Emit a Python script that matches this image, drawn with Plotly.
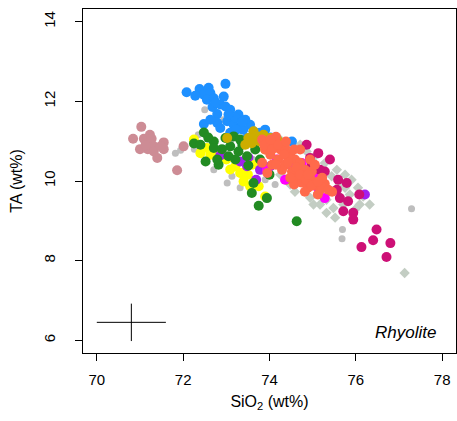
import plotly.graph_objects as go

# ---- data (SiO2, TA) per group ----
gray_x = [71.82, 71.94, 72.26, 72.71, 73.02, 73.13, 72.50, 72.94, 74.48, 74.63, 75.69, 75.68, 77.29, 74.13, 73.90, 73.32, 73.62, 72.35, 73.09]
gray_y = [10.70, 10.77, 10.80, 10.28, 9.95, 10.12, 11.79, 11.54, 9.99, 9.95, 8.78, 8.55, 9.30, 9.91, 10.03, 9.83, 10.54, 11.16, 10.96]

diam_x = [73.97, 74.25, 74.48, 74.71, 74.86, 75.05, 75.28, 75.56, 75.90, 75.44, 75.25, 75.40, 75.63, 75.32, 75.48, 75.32, 75.71, 76.17, 76.32, 75.13, 75.02, 75.75, 76.05, 74.94, 75.17, 75.52, 75.86, 75.75, 74.71, 74.48, 74.25, 74.59, 76.09, 75.63, 75.98, 77.13]
diam_y = [10.79, 11.04, 10.84, 10.91, 10.74, 10.62, 10.45, 10.28, 10.03, 10.12, 9.95, 9.74, 9.61, 9.53, 9.32, 9.20, 9.41, 9.61, 9.41, 9.70, 9.41, 9.83, 9.83, 9.58, 9.41, 9.08, 9.66, 10.16, 10.28, 9.91, 10.16, 9.73, 9.41, 9.91, 9.28, 7.69]

pink_x = [71.03, 70.84, 71.23, 71.09, 71.27, 71.18, 71.32, 71.55, 71.55, 71.40, 72.01, 71.86, 71.32, 71.48, 71.00, 71.13]
pink_y = [11.36, 11.06, 11.16, 11.06, 11.06, 10.80, 10.87, 10.97, 10.80, 10.58, 10.87, 10.27, 10.74, 10.87, 10.80, 10.90]

blue_x = [72.08, 72.38, 72.59, 72.98, 72.48, 72.63, 72.55, 72.71, 72.94, 72.86, 72.98, 73.09, 72.79, 73.28, 72.48, 72.79, 73.02, 72.86, 73.17, 73.32, 73.55, 73.63, 73.09, 73.48, 73.71, 74.52, 73.39, 73.78, 72.68, 73.21, 73.44, 73.90, 74.02, 72.28, 72.75, 73.05, 72.63, 73.37, 73.23]
blue_y = [12.23, 12.31, 12.34, 12.44, 12.17, 12.21, 12.04, 12.08, 12.12, 11.92, 11.87, 11.79, 11.68, 11.67, 11.43, 11.46, 11.50, 11.33, 11.41, 11.33, 11.41, 11.25, 11.21, 11.08, 11.16, 10.99, 11.29, 11.21, 11.86, 11.59, 11.54, 11.29, 11.09, 12.14, 11.97, 11.67, 11.54, 11.49, 11.29]

yellow_x = [72.25, 72.55, 72.40, 72.63, 72.79, 73.21, 73.36, 73.40, 73.55, 72.71, 73.32, 73.75, 73.90, 73.78, 73.00, 73.09, 73.50, 73.60]
yellow_y = [11.04, 10.83, 10.70, 10.66, 10.70, 10.37, 10.20, 9.99, 9.87, 10.70, 10.20, 9.87, 9.61, 10.37, 10.54, 10.29, 10.16, 10.41]

purple_x = [72.86, 73.51, 73.48, 73.78, 74.02, 76.21, 73.69, 73.32]
purple_y = [10.64, 10.59, 10.37, 10.28, 10.37, 9.66, 10.03, 10.49]

green_x = [72.48, 72.25, 72.40, 72.71, 72.71, 72.98, 73.17, 73.09, 73.05, 73.28, 73.21, 73.48, 73.51, 72.82, 72.79, 72.52, 73.63, 73.59, 73.75, 74.00, 73.94, 74.63, 72.90, 73.37, 73.78, 73.67, 72.58, 73.32]
green_y = [11.22, 10.94, 10.91, 10.99, 10.83, 11.08, 11.12, 10.87, 10.62, 10.74, 10.54, 10.62, 10.39, 10.41, 10.54, 10.49, 9.95, 9.70, 9.38, 10.16, 9.57, 8.99, 10.80, 10.91, 10.54, 10.79, 11.09, 11.04]

gold_x = [73.63, 73.51, 73.86, 74.02, 73.44, 73.71, 73.59, 73.02, 74.40, 73.78, 74.18, 74.32, 73.90]
gold_y = [11.25, 11.08, 11.16, 11.08, 10.91, 11.12, 10.95, 11.08, 10.03, 10.99, 11.04, 10.91, 10.79]

magenta_x = [74.17, 74.63, 75.28, 75.02, 74.82, 74.75, 73.94, 74.36, 75.12, 74.48]
magenta_y = [10.54, 10.08, 9.57, 10.16, 10.24, 10.45, 10.28, 10.03, 9.83, 10.41]

vred_x = [74.86, 75.13, 74.98, 75.28, 75.59, 75.79, 75.63, 75.82, 76.08, 75.71, 75.94, 75.94, 76.48, 76.40, 76.80, 76.13, 76.71, 74.94, 75.40, 75.17, 75.56]
vred_y = [10.91, 10.70, 10.41, 10.24, 10.03, 9.95, 9.57, 9.49, 9.66, 9.24, 9.20, 9.03, 8.78, 8.51, 8.44, 8.34, 8.09, 10.58, 10.54, 10.28, 9.78]

coral_x = [73.83, 73.97, 74.13, 74.25, 74.02, 74.36, 74.48, 74.20, 74.59, 74.36, 74.71, 74.52, 74.82, 74.66, 74.94, 75.05, 74.89, 75.17, 75.28, 75.45, 74.82, 75.12, 74.43, 74.29, 74.06, 73.90, 74.15, 74.71, 74.94, 74.98, 75.22, 74.57, 74.48, 74.75, 75.05, 73.83, 73.95,
           73.88, 74.06, 74.20, 74.34, 74.15, 74.43, 74.62, 74.71, 74.85, 74.98, 75.22, 75.36, 75.12, 74.89, 74.57, 74.38, 74.02]
coral_y = [11.04, 10.91, 10.99, 10.79, 10.66, 10.84, 10.66, 10.54, 10.54, 10.41, 10.46, 10.24, 10.28, 10.08, 10.08, 9.91, 9.83, 9.78, 9.93, 9.73, 9.73, 9.66, 10.59, 10.28, 10.41, 10.79, 11.11, 10.79, 10.54, 10.24, 10.08, 9.91, 10.08, 9.96, 10.41, 10.46, 10.20,
           10.89, 10.79, 10.91, 10.66, 10.41, 10.46, 10.34, 10.16, 10.03, 9.88, 9.83, 9.78, 9.98, 10.16, 10.79, 10.99, 11.04]

# typical analytical uncertainty cross
err_x = [70.8]
err_y = [6.45]
err_dx = [0.8]
err_dy = [0.47]

x_ticks = [70, 72, 74, 76, 78]
y_ticks = [6, 8, 10, 12, 14]

fig = go.Figure()

def add(xs, ys, color, size=10, symbol="circle"):
    fig.add_trace(go.Scatter(x=xs, y=ys, mode="markers",
                             marker=dict(color=color, size=size, symbol=symbol, line=dict(width=0)),
                             showlegend=False, hoverinfo="skip"))

add(gray_x, gray_y, "#BEBEBE", 7)
add(diam_x, diam_y, "#C3CDC3", 8, "diamond")
add(pink_x, pink_y, "#CD8C95")
add(blue_x, blue_y, "#1E90FF")
add(yellow_x, yellow_y, "#FFFF00")
add(purple_x, purple_y, "#A020F0")
add(green_x, green_y, "#228B22")
add(gold_x, gold_y, "#CDAD00")
add(magenta_x, magenta_y, "#FF00FF")
add(vred_x, vred_y, "#CD1076")
add(coral_x, coral_y, "#FF6A4B")

fig.add_trace(go.Scatter(x=err_x, y=err_y, mode="markers",
                         marker=dict(size=1, color="rgba(0,0,0,0)"),
                         error_x=dict(type="data", array=err_dx, color="black", thickness=1, width=0),
                         error_y=dict(type="data", array=err_dy, color="black", thickness=1, width=0),
                         showlegend=False, hoverinfo="skip"))

fig.add_annotation(x=77.9, y=6.19, xref="x", yref="y", text="<i>Rhyolite</i>",
                   showarrow=False, xanchor="right", yanchor="middle",
                   font=dict(family="Liberation Sans, Arial", size=17, color="black"))

axis_common = dict(showline=True, mirror=True, linecolor="black", linewidth=1,
                   ticks="outside", ticklen=7, tickcolor="black", tickwidth=1,
                   showgrid=False, zeroline=False,
                   tickfont=dict(family="Liberation Sans, Arial", size=15, color="black"))

fig.update_layout(
    width=457, height=421,
    margin=dict(l=83, r=1, t=9, b=68),
    paper_bgcolor="white", plot_bgcolor="white",
    font=dict(family="Liberation Sans, Arial", color="black"),
    xaxis=dict(range=[69.68, 78.32], tickvals=x_ticks, ticktext=[str(v) for v in x_ticks],
               title=dict(text="SiO<sub>2</sub> (wt%)", font=dict(size=16), standoff=8),
               ticklabelstandoff=6, **axis_common),
    yaxis=dict(range=[5.68, 14.32], tickvals=y_ticks, ticktext=[str(v) for v in y_ticks],
               tickangle=-90,
               title=dict(text="TA (wt%)", font=dict(size=16), standoff=14),
               ticklabelstandoff=14, **axis_common),
)

fig.write_html("out.html")
